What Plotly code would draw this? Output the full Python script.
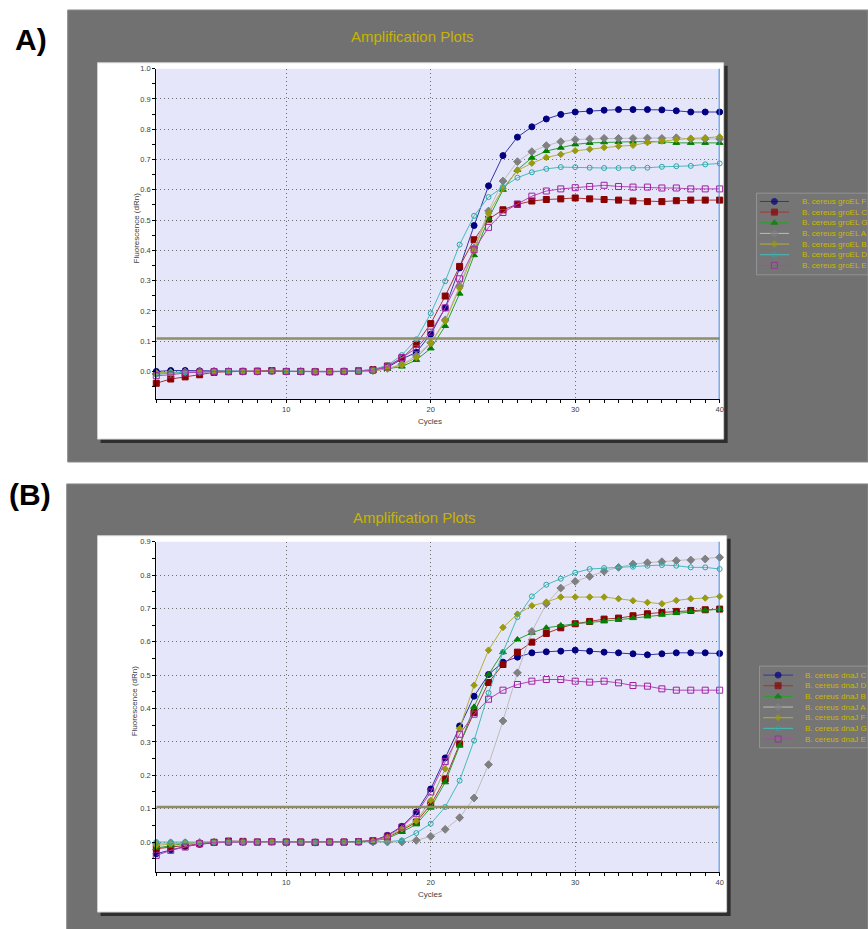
import plotly.graph_objects as go

W, H = 868, 929
FONT = "Liberation Sans, Arial, sans-serif"

# ---------------- data ----------------
cycles = list(range(1, 41))

names_a = ["B. cereus groEL F", "B. cereus groEL C", "B. cereus groEL G", "B. cereus groEL A",
           "B. cereus groEL B", "B. cereus groEL D", "B. cereus groEL E"]
names_b = ["B. cereus dnaJ C", "B. cereus dnaJ D", "B. cereus dnaJ B", "B. cereus dnaJ A",
           "B. cereus dnaJ F", "B. cereus dnaJ G", "B. cereus dnaJ E"]

groel_F = [0.000, 0.003, 0.003, 0.002, 0.001, 0.000, 0.000, 0.000, 0.001, 0.000, 0.000, -0.001, -0.001, 0.000, 0.001, 0.004, 0.013, 0.041, 0.063, 0.123,
           0.210, 0.342, 0.482, 0.613, 0.713, 0.774, 0.808, 0.834, 0.849, 0.857, 0.860, 0.863, 0.865, 0.865, 0.865, 0.864, 0.861, 0.857, 0.857, 0.857]
groel_C = [-0.039, -0.025, -0.018, -0.011, -0.003, -0.001, 0.000, 0.001, 0.003, 0.000, 0.000, -0.001, -0.001, 0.000, 0.002, 0.006, 0.018, 0.043, 0.090, 0.158,
           0.249, 0.347, 0.435, 0.503, 0.534, 0.552, 0.563, 0.568, 0.570, 0.573, 0.570, 0.568, 0.566, 0.563, 0.561, 0.561, 0.564, 0.566, 0.566, 0.566]
groel_G = [-0.005, -0.003, -0.002, -0.001, 0.000, 0.000, 0.000, 0.000, 0.001, 0.000, 0.000, -0.001, -0.001, 0.000, 0.000, 0.002, 0.008, 0.016, 0.038, 0.076,
           0.150, 0.257, 0.384, 0.505, 0.600, 0.666, 0.706, 0.728, 0.739, 0.750, 0.755, 0.757, 0.758, 0.759, 0.759, 0.759, 0.755, 0.755, 0.755, 0.755]
groel_A = [-0.008, -0.004, -0.002, -0.001, 0.000, 0.000, 0.000, 0.000, 0.001, 0.000, 0.000, -0.001, -0.001, 0.000, 0.001, 0.003, 0.010, 0.024, 0.052, 0.095,
           0.170, 0.282, 0.408, 0.530, 0.629, 0.693, 0.726, 0.746, 0.759, 0.766, 0.768, 0.770, 0.770, 0.770, 0.771, 0.770, 0.772, 0.768, 0.768, 0.768]
groel_B = [-0.005, -0.003, -0.002, -0.001, 0.000, 0.000, 0.000, 0.000, 0.001, 0.000, 0.000, -0.001, -0.001, 0.000, 0.000, 0.002, 0.009, 0.021, 0.046, 0.093,
           0.166, 0.276, 0.400, 0.522, 0.605, 0.664, 0.688, 0.707, 0.717, 0.729, 0.734, 0.740, 0.744, 0.747, 0.756, 0.761, 0.766, 0.770, 0.772, 0.775]
groel_D = [-0.010, -0.005, -0.003, -0.001, 0.000, 0.000, 0.000, 0.000, 0.001, 0.000, 0.000, -0.001, -0.001, 0.000, 0.002, 0.006, 0.020, 0.054, 0.106, 0.192,
           0.298, 0.419, 0.514, 0.576, 0.609, 0.640, 0.658, 0.669, 0.675, 0.675, 0.673, 0.672, 0.672, 0.672, 0.673, 0.676, 0.678, 0.679, 0.684, 0.687]
groel_E = [-0.014, -0.011, -0.005, -0.002, 0.000, 0.000, 0.000, 0.000, 0.002, 0.000, 0.000, -0.001, -0.001, 0.000, 0.001, 0.004, 0.015, 0.046, 0.076, 0.130,
           0.210, 0.306, 0.402, 0.476, 0.525, 0.553, 0.579, 0.596, 0.603, 0.607, 0.611, 0.615, 0.611, 0.609, 0.609, 0.606, 0.606, 0.603, 0.603, 0.603]

dnaj_C = [-0.035, -0.023, -0.013, -0.007, -0.002, -0.001, 0.000, 0.000, 0.001, 0.000, 0.000, -0.001, 0.000, 0.000, 0.001, 0.004, 0.020, 0.047, 0.090, 0.159,
          0.252, 0.348, 0.437, 0.502, 0.539, 0.554, 0.567, 0.570, 0.572, 0.575, 0.572, 0.569, 0.567, 0.564, 0.561, 0.564, 0.567, 0.567, 0.567, 0.565]
dnaj_D = [-0.020, -0.015, -0.009, -0.005, -0.001, 0.003, 0.002, 0.000, 0.001, 0.000, 0.000, -0.001, 0.000, 0.000, 0.001, 0.004, 0.014, 0.035, 0.060, 0.112,
          0.189, 0.294, 0.388, 0.478, 0.532, 0.569, 0.599, 0.625, 0.642, 0.654, 0.661, 0.668, 0.671, 0.678, 0.684, 0.688, 0.691, 0.694, 0.696, 0.698]
dnaj_B = [-0.018, -0.010, -0.004, -0.002, 0.000, 0.000, 0.000, 0.000, 0.001, 0.000, 0.000, -0.001, 0.000, 0.000, 0.000, 0.003, 0.011, 0.030, 0.053, 0.103,
          0.179, 0.289, 0.405, 0.502, 0.569, 0.607, 0.627, 0.642, 0.649, 0.654, 0.658, 0.661, 0.666, 0.671, 0.676, 0.681, 0.686, 0.691, 0.694, 0.698]
dnaj_A = [-0.005, -0.003, -0.002, -0.001, 0.000, 0.000, 0.000, 0.000, 0.001, 0.000, 0.000, -0.001, 0.000, 0.000, 0.000, 0.000, 0.000, 0.000, 0.005, 0.017,
          0.038, 0.073, 0.132, 0.232, 0.363, 0.507, 0.631, 0.714, 0.761, 0.781, 0.796, 0.811, 0.823, 0.833, 0.837, 0.840, 0.843, 0.845, 0.848, 0.853]
dnaj_F = [-0.010, -0.006, -0.003, -0.001, 0.000, 0.000, 0.000, 0.000, 0.001, 0.000, 0.000, -0.001, 0.000, 0.000, 0.001, 0.003, 0.014, 0.040, 0.063, 0.125,
          0.219, 0.340, 0.470, 0.575, 0.643, 0.683, 0.708, 0.719, 0.734, 0.734, 0.734, 0.734, 0.729, 0.723, 0.718, 0.714, 0.724, 0.729, 0.731, 0.736]
dnaj_G = [0.000, 0.000, 0.000, 0.000, 0.000, 0.000, 0.000, 0.000, 0.001, 0.000, 0.000, -0.001, 0.000, 0.000, 0.000, 0.000, 0.001, 0.005, 0.027, 0.055,
          0.105, 0.184, 0.304, 0.447, 0.569, 0.674, 0.736, 0.771, 0.789, 0.807, 0.818, 0.821, 0.823, 0.825, 0.828, 0.830, 0.828, 0.823, 0.823, 0.818]
dnaj_E = [-0.040, -0.025, -0.015, -0.005, -0.001, 0.000, 0.000, 0.000, 0.001, 0.000, 0.000, -0.001, 0.000, 0.000, 0.001, 0.004, 0.018, 0.045, 0.085, 0.150,
          0.241, 0.323, 0.383, 0.428, 0.455, 0.472, 0.482, 0.487, 0.487, 0.482, 0.479, 0.482, 0.477, 0.469, 0.467, 0.459, 0.455, 0.455, 0.455, 0.455]

series_a = [groel_F, groel_C, groel_G, groel_A, groel_B, groel_D, groel_E]
series_b = [dnaj_C, dnaj_D, dnaj_B, dnaj_A, dnaj_F, dnaj_G, dnaj_E]

threshold_a = 0.109
threshold_b = 0.105
y_ticks_a = [round(0.1 * i, 1) for i in range(0, 11)]
y_ticks_b = [round(0.1 * i, 1) for i in range(0, 10)]
x_ticks = [10, 20, 30, 40]

# ---------------- styles ----------------
marker_colors = ["#000080", "#8b0000", "#008000", "#808080", "#9a9a10", "#2aa6a6", "#a020a0"]
line_colors = ["#3434a4", "#a83434", "#2e9e2e", "#bcbcbc", "#b0b040", "#48baba", "#b444b4"]
symbols = ["circle", "square", "triangle-up", "diamond", "diamond", "circle-open", "square-open"]
sizes = [6, 6, 6, 6, 5, 5, 6]


def fx(p):
    return p / W


def fy(p):
    return 1 - p / H


fig = go.Figure()


def add_panel(series, names, xa, ya, thr):
    for i, (vals, nm) in enumerate(zip(series, names)):
        fig.add_trace(go.Scatter(
            x=cycles, y=vals, name=nm, mode="lines+markers", xaxis=xa, yaxis=ya,
            line=dict(color=line_colors[i], width=1),
            marker=dict(symbol=symbols[i], size=sizes[i], color=marker_colors[i],
                        line=dict(color=marker_colors[i], width=1)),
            cliponaxis=False, showlegend=False))
    fig.add_trace(go.Scatter(
        x=[cycles[0], cycles[-1]], y=[thr, thr], mode="lines", xaxis=xa, yaxis=ya,
        line=dict(color="#8e8e62", width=2.5), hoverinfo="skip", showlegend=False))


add_panel(series_a, names_a, "x", "y", threshold_a)
add_panel(series_b, names_b, "x2", "y2", threshold_b)

# legend glyphs (drawn on pixel-space helper axes)
annotations = []


def add_legend(names, xa, ya, y0, x_line0, x_line1, x_text):
    for i, nm in enumerate(names):
        yy = y0 + 10.7 * i
        xm = (x_line0 + x_line1) / 2
        fig.add_trace(go.Scatter(
            x=[x_line0, xm, x_line1], y=[yy, yy, yy], mode="lines+markers", xaxis=xa, yaxis=ya,
            line=dict(color=line_colors[i], width=1),
            marker=dict(symbol=symbols[i], size=[0, sizes[i], 0], color=marker_colors[i],
                        line=dict(color=marker_colors[i], width=1)),
            cliponaxis=False, showlegend=False, hoverinfo="skip"))
        annotations.append(dict(x=fx(x_text), y=fy(yy), xref="paper", yref="paper", text=nm,
                                showarrow=False, xanchor="left", yanchor="middle",
                                font=dict(family=FONT, size=8, color="#cbb800")))


add_legend(names_a, "x3", "y3", 198.3, 763.3, 792.7, 803.3)
add_legend(names_b, "x4", "y4", 674.0, 766.7, 796.7, 806.7)

# ---------------- layout ----------------
axis_font = dict(family=FONT, size=7.5, color="#404040")
GRID = dict(showgrid=True, gridcolor="#6e6e6e", griddash="1px,3px", gridwidth=1)


def xaxis_cfg(anchor):
    return dict(domain=[fx(157), fx(723)], range=[1, 40], anchor=anchor,
                tickmode="array", tickvals=x_ticks, ticktext=[str(v) for v in x_ticks],
                ticks="outside", ticklen=3, tickcolor="black", tickwidth=1,
                showline=True, linecolor="black", linewidth=1,
                zeroline=False, tickfont=axis_font, fixedrange=True,
                minor=dict(tickmode="linear", tick0=1, dtick=1, ticks="outside", ticklen=3,
                           tickcolor="black", showgrid=False), **GRID)


def yaxis_cfg(anchor, dom, rng, tv):
    return dict(domain=dom, range=rng, anchor=anchor,
                tickmode="array", tickvals=tv, ticktext=["%.1f" % v for v in tv],
                ticks="outside", ticklen=3, tickcolor="black", tickwidth=1,
                showline=True, linecolor="black", linewidth=1,
                zeroline=False, tickfont=axis_font, fixedrange=True,
                minor=dict(tickmode="linear", tick0=0.05, dtick=0.1, ticks="outside", ticklen=3,
                           tickcolor="black", showgrid=False), **GRID)


hidden = dict(visible=False, fixedrange=True, showgrid=False, zeroline=False)

shapes = []


def rect(x0, y0, x1, y1, fill, line=None, lw=0):
    shapes.append(dict(type="rect", xref="paper", yref="paper", x0=fx(x0), x1=fx(x1),
                       y0=fy(y1), y1=fy(y0), fillcolor=fill, layer="below",
                       line=dict(color=line or fill, width=lw)))


# gray panels
rect(68, 6, 872, 460, "#717171", "#8c8c8c", 1)
rect(67, 482, 872, 933, "#717171", "#8c8c8c", 1)
# white boxes with shadows
rect(101, 62, 731, 441, "#2e2e2e")
rect(98, 59, 727, 437, "#ffffff", "#d0d0d0", 1)
rect(101, 537, 734, 916, "#2e2e2e")
rect(98, 534, 730, 912, "#ffffff", "#d0d0d0", 1)
# plot areas
for xr, yr in [("x", "y"), ("x2", "y2")]:
    shapes.append(dict(type="rect", xref=xr + " domain", yref=yr + " domain", x0=0, x1=1, y0=0, y1=1,
                       fillcolor="#e6e6fa", line=dict(width=0), layer="below"))
# legend boxes
rect(760, 190, 872, 272, "#757575", "#939393", 1)
rect(763, 665, 872, 747, "#757575", "#939393", 1)
# cursor lines at last cycle
for xr, yr in [("x", "y"), ("x2", "y2")]:
    shapes.append(dict(type="line", xref=xr, yref=yr + " domain", x0=40, x1=40, y0=0, y1=1,
                       line=dict(color="#3a90ea", width=2), layer="above"))

# texts
title_font = dict(family=FONT, size=15, color="#c8b400")
annotations += [
    dict(x=fx(414), y=fy(33), text="Amplification Plots", font=title_font),
    dict(x=fx(416), y=fy(516), text="Amplification Plots", font=title_font),
    dict(x=fx(31), y=fy(36), text="<b>A)</b>", font=dict(family=FONT, size=30, color="black")),
    dict(x=fx(30), y=fy(493), text="<b>(B)</b>", font=dict(family=FONT, size=30, color="black")),
    dict(x=fx(432), y=fy(419), text="Cycles", font=dict(family=FONT, size=8, color="#404040")),
    dict(x=fx(432), y=fy(894), text="Cycles", font=dict(family=FONT, size=8, color="#404040")),
    dict(x=fx(137), y=fy(225), text="Fluorescence (dRn)", textangle=-90,
         font=dict(family=FONT, size=8, color="#404040")),
    dict(x=fx(136), y=fy(700), text="Fluorescence (dRn)", textangle=-90,
         font=dict(family=FONT, size=8, color="#404040")),
]
for a in annotations:
    a.setdefault("xref", "paper")
    a.setdefault("yref", "paper")
    a.setdefault("showarrow", False)
    a.setdefault("xanchor", "center")
    a.setdefault("yanchor", "middle")

fig.update_layout(
    width=W, height=H, autosize=False,
    margin=dict(l=0, r=0, t=0, b=0, pad=0),
    paper_bgcolor="white", plot_bgcolor="rgba(0,0,0,0)",
    showlegend=False,
    font=dict(family=FONT),
    xaxis=xaxis_cfg("y"),
    yaxis=yaxis_cfg("x", [fy(397), fy(65)], [-0.092, 1.0], y_ticks_a),
    xaxis2=xaxis_cfg("y2"),
    yaxis2=yaxis_cfg("x2", [fy(872), fy(540)], [-0.0905, 0.9], y_ticks_b),
    xaxis3=dict(domain=[fx(755), 1], range=[755, 868], anchor="y3", **hidden),
    yaxis3=dict(domain=[fy(275), fy(187)], range=[275, 187], anchor="x3", **hidden),
    xaxis4=dict(domain=[fx(755), 1], range=[755, 868], anchor="y4", **hidden),
    yaxis4=dict(domain=[fy(750), fy(662)], range=[750, 662], anchor="x4", **hidden),
    shapes=shapes,
    annotations=annotations,
)

fig.write_html("out.html", config={"displayModeBar": False},
               post_script="document.body.style.margin='0';document.body.style.overflow='hidden';")
